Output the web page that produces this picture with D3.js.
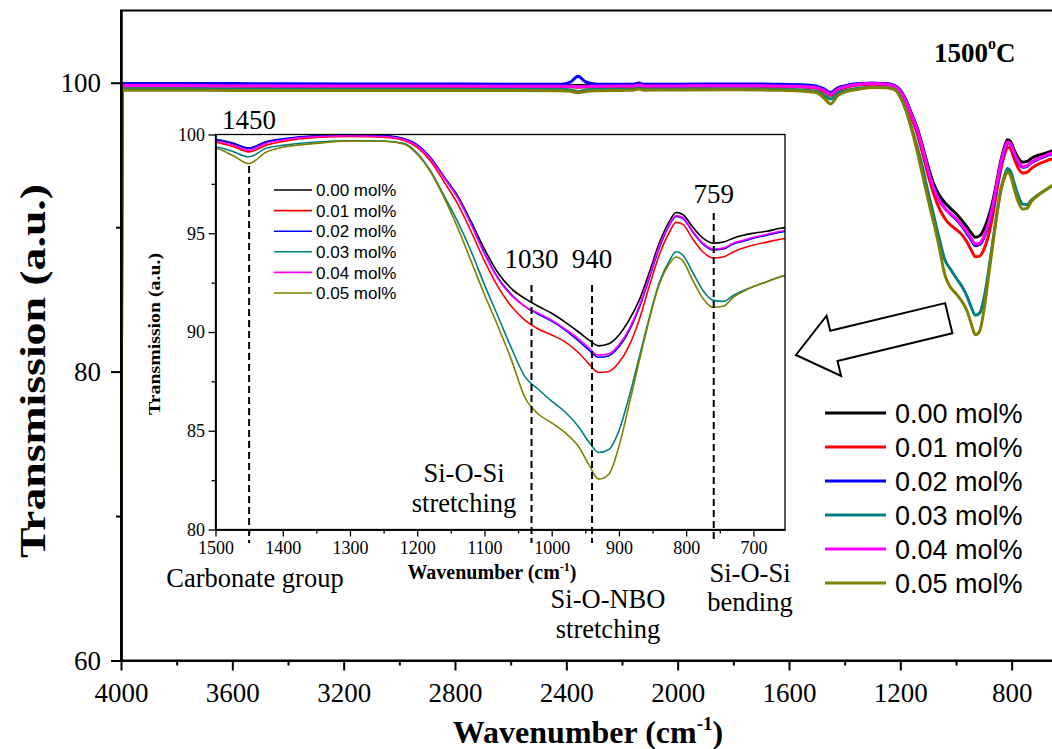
<!DOCTYPE html>
<html>
<head>
<meta charset="utf-8">
<script src="https://cdn.jsdelivr.net/npm/d3@7"></script>
<style>
  html, body { margin: 0; padding: 0; background: #ffffff; }
  svg { display: block; }
</style>
</head>
<body>
<svg id="chart" width="1052" height="749"></svg>
<script>
// FTIR transmission spectra of glasses melted at 1500 °C
const wavenumbers = [
  4000, 3996, 3800, 3600, 3400, 3200, 3000, 2800, 2600, 2420, 2385, 2358, 2330, 2290, 2200, 2160, 2140, 2120, 2000, 1800, 1650, 1560,
  1500, 1475, 1450, 1425, 1400, 1350, 1300, 1250, 1220, 1200, 1180, 1160, 1140, 1120, 1100, 1080, 1060, 1040, 1020, 1000,
  980, 960, 945, 930, 915, 900, 885, 870, 855, 840, 825, 815, 805, 790, 775, 760, 745, 730, 715, 700, 680, 660, 650
];

const mol000 = [
  50, 99.88, 99.88, 99.87, 99.86, 99.86, 99.85, 99.85, 99.84, 99.83, 99.83, 99.8, 99.82, 99.83, 99.84, 99.84, 99.92, 99.84, 99.85, 99.86, 99.85, 99.82,
  99.72, 99.55, 99.32, 99.62, 99.76, 99.92, 99.96, 99.93, 99.78, 99.45, 98.8, 97.85, 96.9, 95.6, 94.2, 93.0, 92.2, 91.7, 91.3, 90.95,
  90.5, 90.0, 89.6, 89.3, 89.4, 89.85, 90.6, 91.6, 93.0, 94.5, 95.6, 96.05, 95.95, 95.3, 94.75, 94.5, 94.55, 94.75, 94.9, 95.0, 95.1, 95.25, 95.3
];
const mol001 = [
  50, 99.76, 99.76, 99.75, 99.74, 99.74, 99.73, 99.73, 99.72, 99.72, 99.72, 99.68, 99.71, 99.72, 99.73, 99.73, 99.8, 99.73, 99.74, 99.75, 99.74, 99.7,
  99.6, 99.4, 99.12, 99.45, 99.65, 99.85, 99.9, 99.86, 99.7, 99.35, 98.65, 97.6, 96.5, 95.1, 93.6, 92.3, 91.3, 90.6, 90.15, 89.85,
  89.5, 88.95, 88.4, 87.95, 88.0, 88.45, 89.3, 90.6, 92.3, 93.9, 95.05, 95.55, 95.45, 94.7, 94.05, 93.75, 93.8, 94.05, 94.25, 94.4, 94.55, 94.7, 94.75
];
const mol002 = [
  50, 99.95, 99.95, 99.94, 99.93, 99.92, 99.92, 99.91, 99.9, 99.9, 100.05, 100.45, 100.05, 99.9, 99.9, 99.9, 99.98, 99.9, 99.9, 99.92, 99.9, 99.86,
  99.76, 99.58, 99.3, 99.63, 99.78, 99.94, 99.97, 99.95, 99.8, 99.48, 98.82, 97.85, 96.85, 95.5, 94.0, 92.75, 91.9, 91.3, 90.9, 90.55,
  90.1, 89.55, 89.1, 88.72, 88.8, 89.25, 90.05, 91.2, 92.7, 94.25, 95.4, 95.85, 95.75, 95.05, 94.45, 94.15, 94.2, 94.45, 94.6, 94.75, 94.9, 95.05, 95.1
];
const mol003 = [
  50, 99.58, 99.58, 99.57, 99.57, 99.56, 99.56, 99.55, 99.55, 99.54, 99.5, 99.38, 99.5, 99.55, 99.56, 99.57, 99.65, 99.57, 99.58, 99.58, 99.55, 99.5,
  99.38, 99.15, 98.87, 99.3, 99.45, 99.62, 99.68, 99.67, 99.55, 99.05, 98.15, 96.9, 95.6, 94.1, 92.4, 90.8, 89.2, 87.75, 87.1, 86.5,
  85.95, 85.2, 84.45, 83.9, 84.05, 85.0, 86.7, 88.7, 90.7, 92.5, 93.6, 94.06, 93.9, 93.0, 92.1, 91.6, 91.55, 91.85, 92.1, 92.3, 92.55, 92.8, 92.9
];
const mol004 = [
  50, 99.8, 99.8, 99.79, 99.78, 99.78, 99.77, 99.77, 99.76, 99.76, 99.76, 99.72, 99.75, 99.76, 99.77, 99.77, 99.85, 99.77, 99.78, 99.79, 99.78, 99.74,
  99.66, 99.48, 99.2, 99.55, 99.72, 99.9, 99.94, 99.9, 99.75, 99.42, 98.75, 97.8, 96.8, 95.45, 93.95, 92.7, 91.85, 91.3, 90.95, 90.6,
  90.15, 89.65, 89.2, 88.83, 88.9, 89.35, 90.15, 91.3, 92.8, 94.35, 95.45, 95.9, 95.8, 95.1, 94.5, 94.2, 94.25, 94.5, 94.65, 94.8, 94.95, 95.1, 95.15
];
const mol005 = [
  50, 99.48, 99.48, 99.47, 99.47, 99.46, 99.46, 99.46, 99.46, 99.45, 99.4, 99.3, 99.4, 99.45, 99.47, 99.48, 99.56, 99.48, 99.5, 99.52, 99.48, 99.42,
  99.3, 98.95, 98.53, 99.1, 99.35, 99.55, 99.67, 99.66, 99.52, 99.0, 98.1, 96.8, 95.3, 93.6, 91.9, 90.3, 88.6, 86.7, 85.85, 85.4,
  84.9, 84.2, 83.3, 82.55, 82.8, 84.2, 86.3, 88.5, 90.6, 92.4, 93.45, 93.8, 93.6, 92.6, 91.7, 91.25, 91.3, 91.75, 92.05, 92.3, 92.55, 92.8, 92.9
];

const seriesLabels = ["0.00 mol%", "0.01 mol%", "0.02 mol%", "0.03 mol%", "0.04 mol%", "0.05 mol%"];
const seriesValues = [mol000, mol001, mol002, mol003, mol004, mol005];
const seriesColors = ["#000000", "#ff0000", "#0000ff", "#008080", "#ff00ff", "#808000"];

const mainXTicks = [4000, 3600, 3200, 2800, 2400, 2000, 1600, 1200, 800];
const mainXMinor = [3800, 3400, 3000, 2600, 2200, 1800, 1400, 1000];
const mainYTicks = [60, 80, 100];
const mainYMinor = [70, 90];
const insetXTicks = [1500, 1400, 1300, 1200, 1100, 1000, 900, 800, 700];
const insetXMinor = [1450, 1350, 1250, 1150, 1050, 950, 850, 750];
const insetYTicks = [80, 85, 90, 95, 100];
const insetYMinor = [82.5, 87.5, 92.5, 97.5];

// band markers: label text and the wavenumber it marks
const bandLabels = ["1450", "1030", "940", "759"];
const bandPositions = [1450, 1030, 940, 759];
const bandNames = [["Carbonate group"], ["Si-O-Si", "stretching"], ["Si-O-NBO", "stretching"], ["Si-O-Si", "bending"]];

const SERIF = "'Liberation Serif', 'Times New Roman', serif";
const SANS = "'Liberation Sans', Arial, sans-serif";

const svg = d3.select("#chart");
const series = seriesLabels.map((name, i) => ({
  name, color: seriesColors[i],
  points: wavenumbers.map((w, j) => [w, seriesValues[i][j]])
}));

// ---------- main panel ----------
const M = { left: 121, top: 10.5, bottom: 660.5, right: 1053.4 };
const x = d3.scaleLinear().domain([4000, 650]).range([M.left, M.right]);
const y = d3.scaleLinear().domain([60, 105]).range([M.bottom, M.top]);

svg.append("clipPath").attr("id", "mainClip")
  .append("rect").attr("x", M.left).attr("y", M.top)
  .attr("width", M.right - M.left).attr("height", M.bottom - M.top);

const mainLine = d3.line().x(d => x(d[0])).y(d => y(d[1])).curve(d3.curveMonotoneX);
svg.append("g").attr("clip-path", "url(#mainClip)")
  .selectAll("path").data(series).join("path")
  .attr("d", d => mainLine(d.points))
  .attr("fill", "none").attr("stroke", d => d.color)
  .attr("stroke-width", 3).attr("stroke-linejoin", "round");

svg.append("rect").attr("x", M.left).attr("y", M.top)
  .attr("width", M.right - M.left).attr("height", M.bottom - M.top)
  .attr("fill", "none").attr("stroke", "#000").attr("stroke-width", 2);

function styleAxis(g, size, family) {
  g.attr("font-family", family).attr("font-size", size);
  g.selectAll(".domain").attr("stroke-width", 2);
  g.selectAll(".tick line").attr("stroke-width", 2);
  g.selectAll("text").attr("fill", "#000");
}

svg.append("g").attr("transform", `translate(0,${M.bottom})`)
  .call(d3.axisBottom(x).tickValues(mainXMinor).tickSize(5).tickSizeOuter(0).tickFormat(""))
  .call(g => styleAxis(g, 27, SERIF));
svg.append("g").attr("transform", `translate(0,${M.bottom})`)
  .call(d3.axisBottom(x).tickValues(mainXTicks).tickSize(10).tickPadding(12).tickSizeOuter(0).tickFormat(d3.format("d")))
  .call(g => styleAxis(g, 27, SERIF));
svg.append("g").attr("transform", `translate(${M.left},0)`)
  .call(d3.axisLeft(y).tickValues(mainYMinor).tickSize(5).tickSizeOuter(0).tickFormat(""))
  .call(g => styleAxis(g, 27, SERIF));
svg.append("g").attr("transform", `translate(${M.left},0)`)
  .call(d3.axisLeft(y).tickValues(mainYTicks).tickSize(10).tickPadding(10).tickSizeOuter(0).tickFormat(d3.format("d")))
  .call(g => styleAxis(g, 27, SERIF));

// axis titles
const xTitle = svg.append("text").attr("x", 588).attr("y", 743)
  .attr("text-anchor", "middle").attr("font-family", SERIF)
  .attr("font-weight", "bold").attr("font-size", 32);
xTitle.append("tspan").text("Wavenumber (cm");
xTitle.append("tspan").attr("font-size", 19).attr("dy", -13).text("-1");
xTitle.append("tspan").attr("dy", 13).text(")");

svg.append("text").attr("transform", "translate(45,371) rotate(-90)")
  .attr("text-anchor", "middle").attr("font-family", SERIF)
  .attr("font-weight", "bold").attr("font-size", 35)
  .attr("textLength", 374).attr("lengthAdjust", "spacingAndGlyphs")
  .text("Transmission (a.u.)");

// temperature tag
const tag = svg.append("text").attr("x", 934).attr("y", 62)
  .attr("font-family", SERIF).attr("font-weight", "bold").attr("font-size", 27);
tag.append("tspan").text("1500");
tag.append("tspan").attr("font-size", 16).attr("dy", -13).text("o");
tag.append("tspan").attr("dy", 13).text("C");

// main legend
const legMain = svg.append("g").attr("transform", "translate(825,413)");
const lm = legMain.selectAll("g").data(series).join("g")
  .attr("transform", (d, i) => `translate(0,${i * 34})`);
lm.append("line").attr("x1", 0).attr("x2", 61).attr("y1", 0).attr("y2", 0)
  .attr("stroke", d => d.color).attr("stroke-width", 3);
lm.append("text").attr("x", 70).attr("y", 0).attr("dy", "0.36em")
  .attr("font-family", SANS).attr("font-size", 27).text(d => d.name);

// hollow arrow pointing at the inset (anchored in main-panel data units)
const arrowTail = [1026, 83.7], arrowTip = [1575, 81.15];
{
  const tx = x(arrowTail[0]), ty = y(arrowTail[1]);
  const px = x(arrowTip[0]), py = y(arrowTip[1]);
  const dx = px - tx, dy = py - ty, len = Math.hypot(dx, dy);
  const ux = dx / len, uy = dy / len, nx = -uy, ny = ux;
  const shaftHalf = 15.5, headHalf = 31, headLen = 39;
  const bx = px - ux * headLen, by = py - uy * headLen;
  const pts = [
    [tx + nx * shaftHalf, ty + ny * shaftHalf],
    [bx + nx * shaftHalf, by + ny * shaftHalf],
    [bx + nx * headHalf, by + ny * headHalf],
    [px, py],
    [bx - nx * headHalf, by - ny * headHalf],
    [bx - nx * shaftHalf, by - ny * shaftHalf],
    [tx - nx * shaftHalf, ty - ny * shaftHalf]
  ];
  svg.append("polygon").attr("points", pts.map(p => p.join(",")).join(" "))
    .attr("fill", "#fff").attr("stroke", "#000").attr("stroke-width", 2)
    .attr("stroke-linejoin", "miter");
}

// ---------- inset panel ----------
const I = { left: 215.5, right: 785, top: 134.5, bottom: 529.5 };
const xi = d3.scaleLinear().domain([1500, 653]).range([I.left, I.right]);
const yi = d3.scaleLinear().domain([80, 100]).range([I.bottom, I.top]);

svg.append("rect").attr("x", I.left).attr("y", I.top)
  .attr("width", I.right - I.left).attr("height", I.bottom - I.top).attr("fill", "#fff");

svg.append("clipPath").attr("id", "insetClip")
  .append("rect").attr("x", I.left).attr("y", I.top)
  .attr("width", I.right - I.left).attr("height", I.bottom - I.top);

const insetLine = d3.line().x(d => xi(d[0])).y(d => yi(d[1])).curve(d3.curveMonotoneX);
svg.append("g").attr("clip-path", "url(#insetClip)")
  .selectAll("path").data(series).join("path")
  .attr("d", d => insetLine(d.points))
  .attr("fill", "none").attr("stroke", d => d.color)
  .attr("stroke-width", 1.6).attr("stroke-linejoin", "round");

svg.append("rect").attr("x", I.left).attr("y", I.top)
  .attr("width", I.right - I.left).attr("height", I.bottom - I.top)
  .attr("fill", "none").attr("stroke", "#000").attr("stroke-width", 1.3);

function styleInset(g) {
  g.attr("font-family", SERIF).attr("font-size", 18);
  g.selectAll(".domain").attr("stroke-width", 1.3);
  g.selectAll(".tick line").attr("stroke-width", 1.3);
}
svg.append("g").attr("transform", `translate(0,${I.bottom})`)
  .call(d3.axisBottom(xi).tickValues(insetXMinor).tickSize(4).tickSizeOuter(0).tickFormat(""))
  .call(styleInset);
svg.append("g").attr("transform", `translate(0,${I.bottom})`)
  .call(d3.axisBottom(xi).tickValues(insetXTicks).tickSize(7).tickPadding(4.5).tickSizeOuter(0).tickFormat(d3.format("d")))
  .call(styleInset);
svg.append("g").attr("transform", `translate(${I.left},0)`)
  .call(d3.axisLeft(yi).tickValues(insetYMinor).tickSize(4).tickSizeOuter(0).tickFormat(""))
  .call(styleInset);
svg.append("g").attr("transform", `translate(${I.left},0)`)
  .call(d3.axisLeft(yi).tickValues(insetYTicks).tickSize(7).tickPadding(3.5).tickSizeOuter(0).tickFormat(d3.format("d")))
  .call(styleInset);

const xiTitle = svg.append("text").attr("x", 492).attr("y", 579)
  .attr("text-anchor", "middle").attr("font-family", SERIF)
  .attr("font-weight", "bold").attr("font-size", 20);
xiTitle.append("tspan").text("Wavenumber (cm");
xiTitle.append("tspan").attr("font-size", 12).attr("dy", -8).text("-1");
xiTitle.append("tspan").attr("dy", 8).text(")");

svg.append("text").attr("transform", "translate(160,334) rotate(-90)")
  .attr("text-anchor", "middle").attr("font-family", SERIF)
  .attr("font-weight", "bold").attr("font-size", 17)
  .attr("textLength", 162).attr("lengthAdjust", "spacingAndGlyphs")
  .text("Transmission (a.u.)");

// inset legend
const legInset = svg.append("g").attr("transform", "translate(274,190)");
const li = legInset.selectAll("g").data(series).join("g")
  .attr("transform", (d, i) => `translate(0,${i * 20.6})`);
li.append("line").attr("x1", 0).attr("x2", 38).attr("y1", 0).attr("y2", 0)
  .attr("stroke", d => d.color).attr("stroke-width", 1.6);
li.append("text").attr("x", 42).attr("y", 0).attr("dy", "0.36em")
  .attr("font-family", SANS).attr("font-size", 17).text(d => d.name);

// band markers
const bandTop = [166, 285, 285, 213];
const bandLabelY = [129, 268, 268, 203];
svg.append("g").selectAll("line").data(bandPositions).join("line")
  .attr("x1", d => xi(d)).attr("x2", d => xi(d))
  .attr("y1", (d, i) => bandTop[i]).attr("y2", 543)
  .attr("stroke", "#000").attr("stroke-width", 2).attr("stroke-dasharray", "7,4");

svg.append("g").selectAll("text").data(bandLabels).join("text")
  .attr("x", (d, i) => xi(bandPositions[i]))
  .attr("y", (d, i) => bandLabelY[i])
  .attr("text-anchor", "middle").attr("font-family", SERIF).attr("font-size", 27)
  .text(d => d);

// band assignments below the inset
const nameAnchor = [[255, 587], [464, 482], [608, 608], [750, 581.5]];
const nameGroups = svg.append("g").selectAll("text").data(bandNames).join("text")
  .attr("text-anchor", "middle").attr("font-family", SERIF).attr("font-size", 26.5)
  .attr("x", (d, i) => nameAnchor[i][0]).attr("y", (d, i) => nameAnchor[i][1]);
nameGroups.each(function(lines, i) {
  d3.select(this).selectAll("tspan").data(lines).join("tspan")
    .attr("x", nameAnchor[i][0])
    .attr("dy", (d, j) => j === 0 ? 0 : 29.6)
    .text(d => d);
});
</script>
</body>
</html>
